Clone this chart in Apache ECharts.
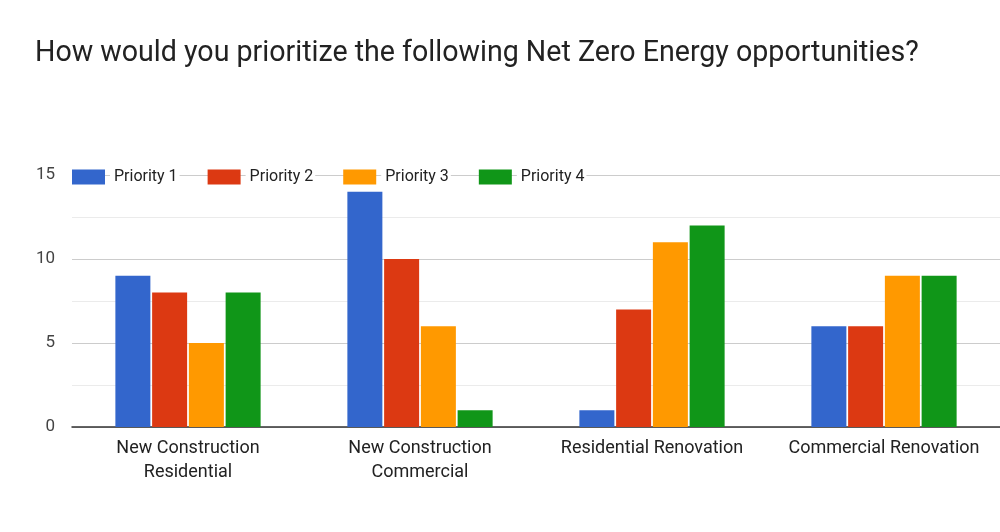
<!DOCTYPE html>
<html>
<head>
<meta charset="utf-8">
<script src="https://cdn.jsdelivr.net/npm/echarts@6/dist/echarts.min.js"></script>
<style>html,body{margin:0;padding:0;background:#fff}#c{width:1000px;height:532px}</style>
</head>
<body>
<div id="c"></div>
<script>
const categories = ["New Construction\nResidential", "New Construction\nCommercial", "Residential Renovation", "Commercial Renovation"];
const seriesNames = ["Priority 1", "Priority 2", "Priority 3", "Priority 4"];
const priority1 = [9, 14, 1, 6];
const priority2 = [8, 10, 7, 6];
const priority3 = [5, 6, 11, 9];
const priority4 = [8, 1, 12, 9];
const colors = ["#3366cc", "#dc3912", "#ff9900", "#109618"];
const values = [priority1, priority2, priority3, priority4];

const chart = echarts.init(document.getElementById('c'));
chart.setOption({
  animation: false,
  textStyle: { fontFamily: 'Roboto' },
  title: {
    text: 'How would you prioritize the following Net Zero Energy opportunities?',
    left: 35, top: 39, padding: 0,
    textStyle: { fontFamily: 'Roboto', fontSize: 28.6, fontWeight: 'normal', color: '#222' }
  },
  legend: {
    left: 72, top: 169, padding: 0,
    itemWidth: 33, itemHeight: 15, itemGap: 28,
    icon: 'rect',
    textStyle: { fontFamily: 'Roboto', fontSize: 16, color: '#222', backgroundColor: '#fff', padding: [0, 2, 0, 4] },
    data: seriesNames
  },
  grid: { left: 72, right: 0, top: 175, bottom: 105, containLabel: false },
  xAxis: {
    type: 'category', data: categories,
    axisLine: { lineStyle: { color: '#333', width: 1.5 } },
    axisTick: { show: false },
    axisLabel: { fontFamily: 'Roboto', fontSize: 18, color: '#222', margin: 9, lineHeight: 24, interval: 0 }
  },
  yAxis: {
    type: 'value', min: 0, max: 15, interval: 5,
    axisLine: { show: false }, axisTick: { show: false },
    axisLabel: { fontFamily: 'Roboto', fontSize: 17, color: '#444', margin: 17 },
    splitLine: { lineStyle: { color: '#ccc' } },
    minorTick: { show: false, splitNumber: 2 },
    minorSplitLine: { show: true, lineStyle: { color: '#ebebeb' } }
  },
  series: seriesNames.map((n, i) => ({
    name: n, type: 'bar', data: values[i],
    barWidth: 35, barGap: '5%',
    itemStyle: { color: colors[i] }
  }))
});
</script>
</body>
</html>
